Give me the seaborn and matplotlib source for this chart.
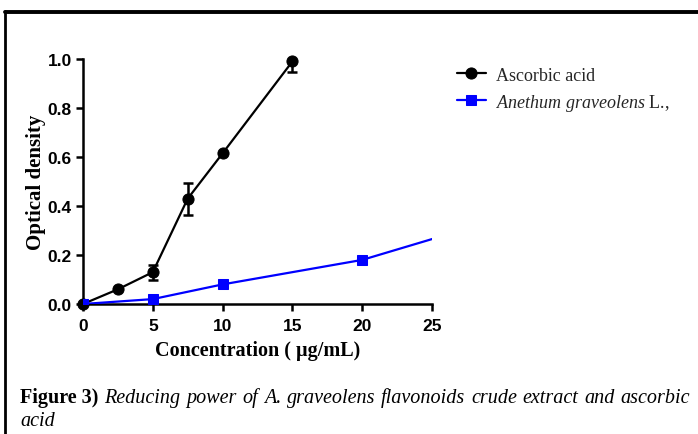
import numpy as np
import pandas as pd
import seaborn as sns
import matplotlib
matplotlib.use("Agg")
import matplotlib.pyplot as plt
from matplotlib.lines import Line2D

# ---- data ----
conc_aa = [0, 2.5, 5, 7.5, 10, 15]
od_aa = [0.0, 0.06, 0.13, 0.43, 0.615, 0.99]
err_aa = [0.0, 0.0, 0.03, 0.065, 0.0, 0.045]
conc_ag = [0, 5, 10, 20, 30]
od_ag = [0.0, 0.02, 0.08, 0.18, 0.35]
label_aa = "Ascorbic acid"
label_ag = r"$\it{Anethum\ graveolens}$ L.,"
x_ticks = [0, 5, 10, 15, 20, 25]
y_ticks = [0.0, 0.2, 0.4, 0.6, 0.8, 1.0]
caption_bold = "Figure 3)"
caption_line1 = "Reducing power of A. graveolens flavonoids crude extract and ascorbic"
caption_line2 = "acid"

sns.set_theme(style="ticks")
plt.rcParams["font.family"] = ["Liberation Sans", "DejaVu Sans"]
plt.rcParams["mathtext.fontset"] = "custom"
plt.rcParams["mathtext.rm"] = "Liberation Serif"
plt.rcParams["mathtext.it"] = "Liberation Serif:italic"

W, H = 698, 435
fig = plt.figure(figsize=(W / 100, H / 100), dpi=100)
ax = fig.add_axes([83 / W, 1 - 305 / H, (432 - 83) / W, (305 - 60) / H])

df_aa = pd.DataFrame({"conc": conc_aa, "od": od_aa})
df_ag = pd.DataFrame({"conc": conc_ag, "od": od_ag})

ax.errorbar(conc_aa, od_aa, yerr=err_aa, fmt="none", ecolor="black",
            elinewidth=1.8, capsize=3.5, capthick=1.8, zorder=3)
sns.lineplot(data=df_aa, x="conc", y="od", ax=ax, color="black", marker="o",
             markersize=8, markeredgecolor="black", linewidth=1.6,
             label=label_aa, zorder=4, clip_on=False)
sns.lineplot(data=df_ag, x="conc", y="od", ax=ax, color="#0000ff", marker="s",
             markersize=7, markeredgecolor="#0000ff", linewidth=1.6,
             label=label_ag, zorder=5)

ax.set_xlim(0, 25)
ax.set_ylim(0, 1.0)
ax.set_xticks(x_ticks)
ax.set_yticks(y_ticks)
ax.set_yticklabels([f"{v:.1f}" for v in y_ticks])
for s in ["top", "right"]:
    ax.spines[s].set_visible(False)
for s in ["left", "bottom"]:
    ax.spines[s].set_linewidth(1.8)
    ax.spines[s].set_color("black")
ax.tick_params(axis="both", length=5, width=1.8, color="black",
               labelsize=12.5, pad=3)
ax.tick_params(axis="x", pad=5)
for t in ax.get_xticklabels() + ax.get_yticklabels():
    t.set_fontweight("bold")
    t.set_color("black")

ax.set_xlabel("Concentration ( µg/mL)", family="Liberation Serif",
              fontweight="bold", fontsize=14.5, color="black", labelpad=5)
ax.set_ylabel("Optical density", family="Liberation Serif",
              fontweight="bold", fontsize=15, color="black", labelpad=1)

leg = ax.legend(loc="upper left", bbox_to_anchor=(444 / W, 1 - 55 / H),
                bbox_transform=fig.transFigure, frameon=False,
                prop={"family": "Liberation Serif", "size": 13},
                handlelength=1.6, handletextpad=0.6, labelspacing=0.45,
                borderpad=0.2)

# border lines
fig.add_artist(Line2D([5 / W, 1], [1 - 13 / H, 1 - 13 / H],
                      transform=fig.transFigure, color="black", linewidth=2.8))
fig.add_artist(Line2D([5 / W, 5 / W], [1 - 12 / H, 0],
                      transform=fig.transFigure, color="black", linewidth=2.0))

# caption
renderer = fig.canvas.get_renderer()
cap_size = 14.5
tb = fig.text(20 / W, 1 - 403 / H, caption_bold, family="Liberation Serif",
              fontweight="bold", fontsize=cap_size, va="baseline", color="black")
bw = tb.get_window_extent(renderer).width
x0 = 20 + bw + 6
x_end = 690
words = caption_line1.split()
texts = []
widths = []
for w in words:
    t = fig.text(0, 1 - 403 / H, w, family="Liberation Serif", style="italic",
                 fontsize=cap_size, va="baseline", color="black")
    texts.append(t)
    widths.append(t.get_window_extent(renderer).width)
gap = (x_end - x0 - sum(widths)) / (len(words) - 1)
x = x0
for t, wd in zip(texts, widths):
    t.set_x(x / W)
    x += wd + gap
fig.text(20 / W, 1 - 426 / H, caption_line2, family="Liberation Serif",
         style="italic", fontsize=cap_size, va="baseline", color="black")

fig.savefig("out.png", dpi=100)
